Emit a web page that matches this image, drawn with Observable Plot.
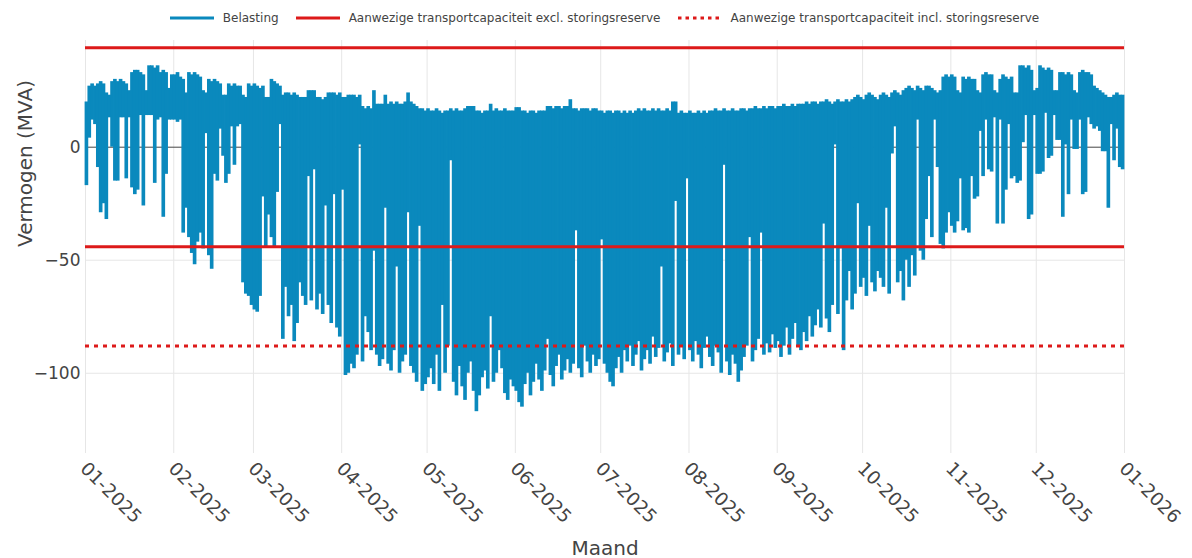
<!DOCTYPE html>
<html><head><meta charset="utf-8">
<script src="https://cdn.jsdelivr.net/npm/d3@7"></script>
<script src="https://cdn.jsdelivr.net/npm/@observablehq/plot@0.6"></script>
<style>
body{margin:0;background:#fff;font-family:"DejaVu Sans",Verdana,sans-serif;}
#legend{height:36px;display:flex;align-items:center;justify-content:center;margin-left:85px;margin-right:68px;font-size:12px;color:#444;}
.item{display:flex;align-items:center;margin:0 8.5px;white-space:nowrap;}
.item svg{margin-right:9px;}
</style></head><body>
<div id="legend"></div>
<div id="chart"></div>
<script>
// Daily maximum load (MVA), 2025-01-01 .. 2025-12-31 (one line per month)
const belastingMax = [
  20,27,28,27,28,29,28,24,23,29,30,29,30,29,28,25,33,34,34,33,32,25,36,36,35,36,33,34,33,26,32,
  32,33,31,30,24,33,32,33,32,31,25,24,30,29,30,29,28,23,23,28,27,28,27,27,23,22,28,27,
  28,27,26,27,22,22,30,29,28,27,23,24,24,23,24,23,22,22,22,25,25,25,22,22,21,22,24,24,24,23,24,
  22,22,23,23,23,22,23,18,17,18,17,25,19,19,19,23,19,20,19,20,19,19,20,24,20,19,18,17,17,16,
  17,16,16,17,16,15,16,16,17,16,17,16,16,17,18,18,18,16,16,15,16,16,19,16,17,16,16,17,16,16,16,
  17.5,17.5,16,16,15,16,16,15,16,16,16,18,18,17,18,18,17,18,18,21,17,17,16,17,17,17,16,17,17,16,
  16,15,16,16,15,16,16,15,16,15,16,15,16,17,16,17,16,16,17,16,17,16,16,17,16,20,20,15,16,15,15,
  16,15,15,16,15,16,15,16,16,17,16,16,17,16,16,17,16,16,17,17,16,17,17,18,17,17,18,17,18,18,17,
  18,18,19,18,18,19,18,19,19,19,20,19,20,20,19,20,20,21,20,19,20,21,20,20,21,20,21,22,23,22,
  21,23,24,23,22,21,23,24,23,22,24,25,24,23,25,26,27,26,25,27,26,25,27,27,26,25,24,25,31,32,31,
  32,31,25,24,31,30,31,30,30,25,24,32,33,32,32,25,24,30,32,31,30,31,24,24,36,36,35,36,34,25,
  26,36,35,34,35,34,25,25,33,33,32,33,32,25,24,33,34,33,33,32,27,26,25,24,23,22,22,23,24,23,23
];
// Daily minimum load (MVA)
const belastingMin = [
  -17,4,12,10,-9,-29,-25,-32,13,0,-15,-15,13,13,-14,13,-18,-21,-19,14,-26,14,14,14,-16,12,13,-31,-12,12,12,
  12,11,12,-38,-27,-40,-47,-52,-42,-38,-45,6,-48,-54,-12,-15,8,-4,-16,-12,9,-8,9,10,-60,-65,-66,-70,
  -72,-73,-66,-22,-44,-30,-40,-44,-20,10,-85,-62,-75,-70,-86,-78,-60,-66,-70,-13,-68,-10,-72,-65,-74,-26,-70,-78,-21,-80,-84,
  -19,-101,-100,-96,-98,-92,1,-95,-75,-82,-90,-46,-92,-97,-94,-27,-96,-99,-90,-53,-100,-95,-92,-29,-97,-100,-104,-35,-108,-105,
  -102,-98,-105,-92,-108,-70,-100,-88,-6,-104,-110,-97,-106,-112,-100,-95,-108,-117,-110,-102,-99,-107,-75,-104,-100,-90,-98,-109,-112,-103,-106,
  -108,-113,-115,-105,-100,-110,-104,-96,-103,-108,-99,-85,-101,-106,-97,-92,-103,-99,-94,-100,-96,-37,-98,-102,-88,-95,-100,-92,-97,-94,
  -41,-96,-100,-104,-106,-98,-93,-100,-90,-95,-88,-97,-92,-86,-99,-94,-90,-96,-84,-93,-89,-53,-95,-91,-87,-97,-24,-92,-88,-94,-14,
  -90,-95,-86,-92,-98,-89,-84,-93,-97,-88,-91,-100,-8,-95,-101,-92,-96,-104,-99,-93,-88,-40,-95,-90,-85,-38,-92,-87,-91,-83,-89,
  -86,-93,-88,-80,-92,-85,-78,-88,-90,-82,-86,-75,-84,-79,-72,-80,-34,-76,-82,-70,1,-74,-45,-90,-68,-55,-72,-65,-25,-62,
  -58,-66,-35,-60,-64,-55,-58,-62,-27,-65,-3,9,-60,-55,-68,-50,-62,-48,-57,12,-46,-50,-32,-13,-40,12,-9,-43,-45,-38,-29,
  -35,-38,-33,-14,-37,-36,-38,-13,-23,-22,7,-13,12,-10,-11,13,-34,12,-34,-19,10,-14,-13,-16,-15,2,14,-32,-30,14,
  -12,-12,-11,15,-5,-4,14,3,3,-31,1,-21,12,-1,-1,12,-21,-20,13,10,8,9,7,-2,-2,-27,10,-6,8,-9,-10
];
const startDate = "2025-01-01";
const endDate = "2026-01-01";
const capExcl = [44, -44];   // Aanwezige transportcapaciteit excl. storingsreserve
const capIncl = [-88];       // Aanwezige transportcapaciteit incl. storingsreserve
const yTicks = [-100, -50, 0];
const yGrid = [-100, -50];
const legendLabels = ["Belasting", "Aanwezige transportcapaciteit excl. storingsreserve", "Aanwezige transportcapaciteit incl. storingsreserve"];

const BLUE = "#0a89bd", RED = "#dd1a1a";
const start = new Date(startDate + "T00:00:00Z");
const end = new Date(endDate + "T00:00:00Z");
const rows = belastingMax.map((mx, i) => ({
  start: d3.utcDay.offset(start, i),
  end: d3.utcDay.offset(start, i + 1),
  max: mx,
  min: belastingMin[i]
}));
const monthTicks = d3.utcMonth.range(start, d3.utcDay.offset(end, 1));

// legend
const legend = document.getElementById("legend");
const swatches = [
  `<line x1="0" y1="2" x2="44" y2="2" stroke="${BLUE}" stroke-width="3"/>`,
  `<line x1="0" y1="2" x2="44" y2="2" stroke="${RED}" stroke-width="3"/>`,
  `<line x1="1" y1="2" x2="44" y2="2" stroke="${RED}" stroke-width="3" stroke-dasharray="3.5,4"/>`
];
legendLabels.forEach((lab, i) => {
  const it = document.createElement("div");
  it.className = "item";
  it.innerHTML = `<svg width="44" height="4">${swatches[i]}</svg><span>${lab}</span>`;
  legend.appendChild(it);
});

const chart = Plot.plot({
  width: 1192, height: 522,
  marginLeft: 85, marginRight: 68, marginTop: 4, marginBottom: 105,
  style: {fontFamily: "'DejaVu Sans', Verdana, sans-serif", fontSize: "17px", color: "#444", background: "#fff"},
  x: {type: "utc", domain: [start, end]},
  y: {domain: [-135.5, 47.2]},
  marks: [
    Plot.ruleX(monthTicks, {stroke: "#e6e6e6", strokeWidth: 1}),
    Plot.ruleY(yGrid, {stroke: "#e6e6e6", strokeWidth: 1}),
    Plot.ruleY([0], {stroke: "#444", strokeWidth: 1}),
    Plot.rect(rows, {x1: "start", x2: "end", y1: "min", y2: "max", fill: BLUE, insetLeft: -0.4, insetRight: -0.4}),
    Plot.ruleY(capExcl, {stroke: RED, strokeWidth: 3}),
    Plot.ruleY(capIncl, {stroke: RED, strokeWidth: 3, strokeDasharray: "4,5"}),
    Plot.axisX({ticks: monthTicks, tickFormat: d3.utcFormat("%m-%Y"), tickRotate: 45, tickSize: 0, tickPadding: 12, dx: -2, fontSize: 18.5, label: null}),
    Plot.axisY({ticks: yTicks, tickFormat: d3.format("d"), tickSize: 0, tickPadding: 5, fontSize: 17, label: null}),
    Plot.text(["Maand"], {text: d => d, frameAnchor: "bottom", lineAnchor: "bottom", dy: 101, fontSize: 20}),
    Plot.text(["Vermogen (MVA)"], {text: d => d, frameAnchor: "left", rotate: -90, dx: -60, fontSize: 20})
  ]
});
document.getElementById("chart").appendChild(chart);
</script>
</body></html>
